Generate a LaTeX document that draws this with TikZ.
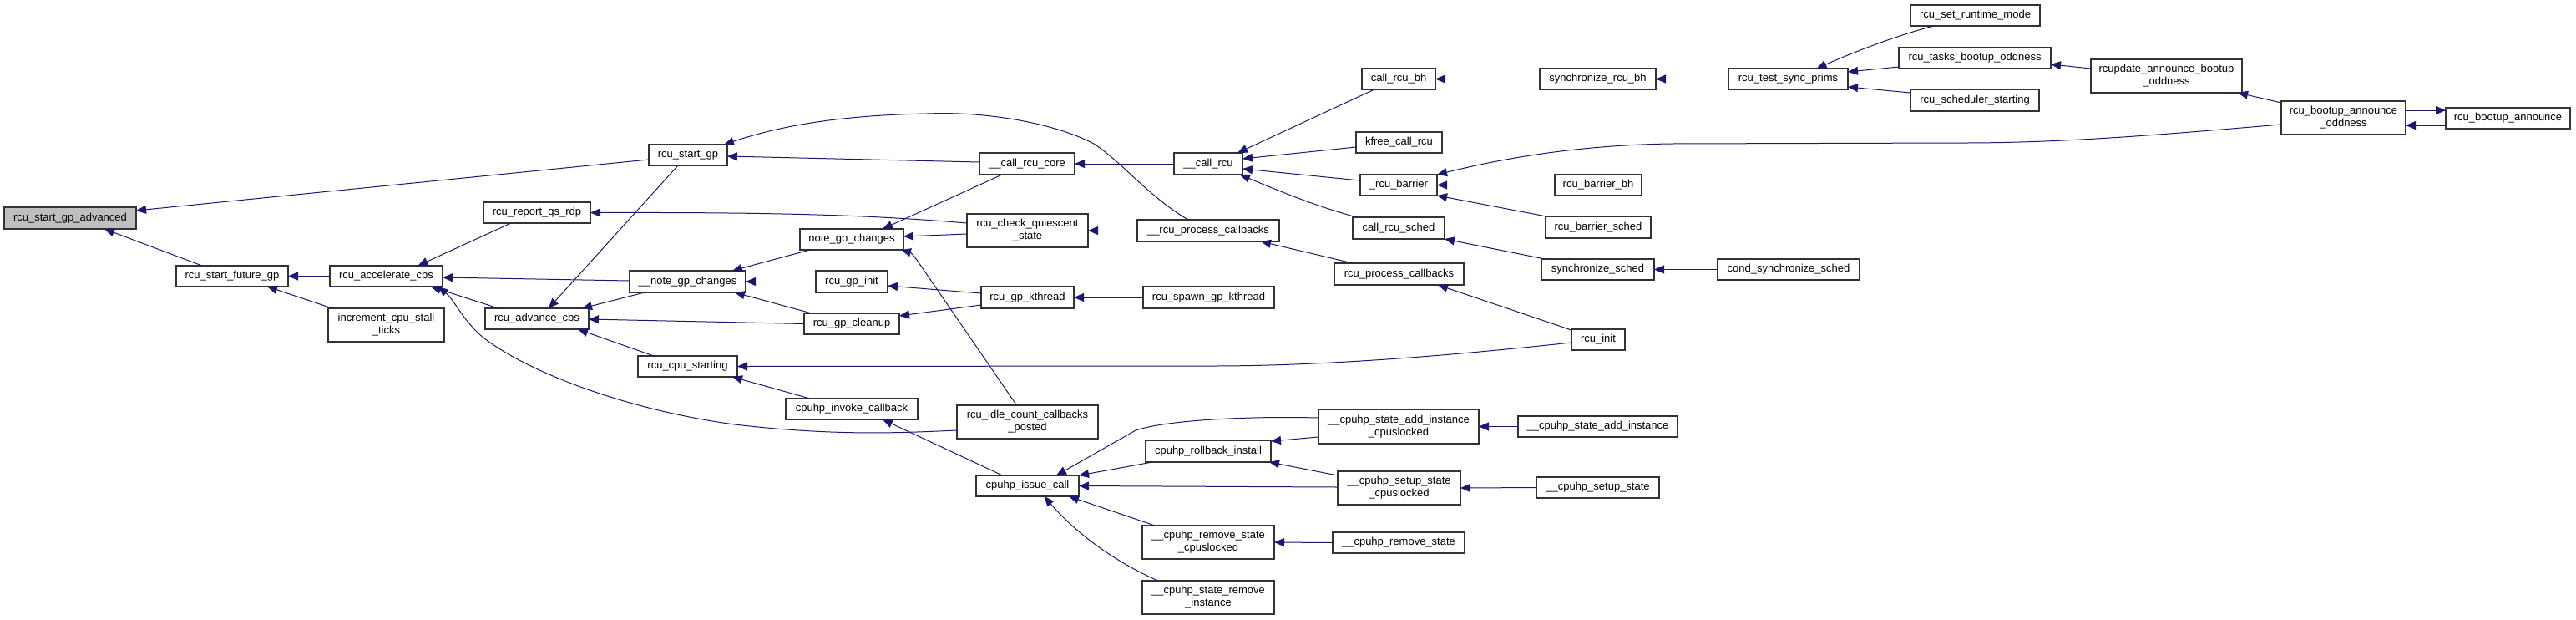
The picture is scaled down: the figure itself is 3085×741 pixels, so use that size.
\documentclass[tikz,border=0pt]{standalone}
\usepackage{fontspec}
\setmainfont{Liberation Sans}
\usetikzlibrary{arrows.meta,calc}
\definecolor{edgecol}{HTML}{191970}
\newcommand\nd[7][]{\node[nbox,#1, minimum width={(#5-#3)*0.5pt}, minimum height={(#6-#4)*0.5pt}] (#2) at ({(#3+#5)/2},{(#4+#6)/2}) {#7};}
\begin{document}
\begin{tikzpicture}[x=0.5pt,y=-0.5pt,
  font=\fontsize{6.5}{7.5}\selectfont,
  nbox/.style={draw=black!80, line width=0.6pt, fill=white, inner sep=0pt, outer sep=0pt, align=center},
  cedge/.style={draw=edgecol, line width=0.5pt, -{Triangle[length=6pt,width=5pt]}}]
\useasboundingbox (0,0) rectangle (3085,741);
% nodes
\nd[fill=black!25]{adv}{5}{248}{163}{274}{rcu\_start\_gp\_advanced}
\nd{fut}{211}{318}{345}{343}{rcu\_start\_future\_gp}
\nd{acc}{395}{318}{530}{343}{rcu\_accelerate\_cbs}
\nd{inc}{393}{369}{532}{409}{increment\_cpu\_stall\\\_ticks}
\nd{sgp}{777}{173}{871}{198}{rcu\_start\_gp}
\nd{rqs}{579}{242}{707}{267}{rcu\_report\_qs\_rdp}
\nd{ngc}{958}{274}{1082}{299}{note\_gp\_changes}
\nd{nngc}{754}{324}{893}{350}{\_\_note\_gp\_changes}
\nd{gpi}{977}{324}{1063}{350}{rcu\_gp\_init}
\nd{advc}{581}{369}{705}{394}{rcu\_advance\_cbs}
\nd{gpc}{963}{375}{1077}{400}{rcu\_gp\_cleanup}
\nd{cpus}{764}{426}{883}{451}{rcu\_cpu\_starting}
\nd{inv}{941}{477}{1099}{502}{cpuhp\_invoke\_callback}
\nd{crc}{1173}{183}{1287}{209}{\_\_call\_rcu\_core}
\nd{cr}{1406}{183}{1488}{209}{\_\_call\_rcu}
\nd{cqs}{1158}{256}{1303}{296}{rcu\_check\_quiescent\\\_state}
\nd{urpc}{1362}{263}{1532}{289}{\_\_rcu\_process\_callbacks}
\nd{gpk}{1175}{343}{1286}{369}{rcu\_gp\_kthread}
\nd{spawn}{1369}{343}{1526}{369}{rcu\_spawn\_gp\_kthread}
\nd{idle}{1146}{485}{1315}{525}{rcu\_idle\_count\_callbacks\\\_posted}
\nd{issue}{1169}{569}{1292}{594}{cpuhp\_issue\_call}
\nd{rb}{1372}{527}{1522}{553}{cpuhp\_rollback\_install}
\nd{rmsc}{1368}{629}{1526}{669}{\_\_cpuhp\_remove\_state\\\_cpuslocked}
\nd{sri}{1368}{695}{1526}{735}{\_\_cpuhp\_state\_remove\\\_instance}
\nd{crbh}{1631}{82}{1719}{107}{call\_rcu\_bh}
\nd{srbh}{1844}{82}{1983}{107}{synchronize\_rcu\_bh}
\nd{kfree}{1624}{158}{1727}{183}{kfree\_call\_rcu}
\nd{rbar}{1629}{209}{1721}{234}{\_rcu\_barrier}
\nd{rbbh}{1862}{209}{1966}{234}{rcu\_barrier\_bh}
\nd{rbs}{1851}{259}{1977}{285}{rcu\_barrier\_sched}
\nd{crs}{1620}{260}{1730}{286}{call\_rcu\_sched}
\nd{ss}{1846}{310}{1981}{335}{synchronize\_sched}
\nd{rpc}{1598}{315}{1753}{341}{rcu\_process\_callbacks}
\nd{init}{1882}{394}{1946}{419}{rcu\_init}
\nd{saic}{1579}{490}{1771}{531}{\_\_cpuhp\_state\_add\_instance\\\_cpuslocked}
\nd{sai}{1818}{498}{2009}{523}{\_\_cpuhp\_state\_add\_instance}
\nd{ssc}{1602}{564}{1749}{604}{\_\_cpuhp\_setup\_state\\\_cpuslocked}
\nd{sst}{1840}{571}{1987}{596}{\_\_cpuhp\_setup\_state}
\nd{rms}{1596}{637}{1754}{662}{\_\_cpuhp\_remove\_state}
\nd{tsp}{2070}{82}{2213}{107}{rcu\_test\_sync\_prims}
\nd{srm}{2288}{6}{2443}{31}{rcu\_set\_runtime\_mode}
\nd{tbo}{2274}{57}{2456}{82}{rcu\_tasks\_bootup\_oddness}
\nd{schs}{2288}{107}{2442}{133}{rcu\_scheduler\_starting}
\nd{rabo}{2504}{71}{2685}{111}{rcupdate\_announce\_bootup\\\_oddness}
\nd{css}{2057}{310}{2227}{335}{cond\_synchronize\_sched}
\nd{rbao}{2732}{121}{2881}{161}{rcu\_bootup\_announce\\\_oddness}
\nd{rba}{2929}{129}{3078}{154}{rcu\_bootup\_announce}
% edges
\draw[cedge] ($(sgp.west)+(0,5.5)$) -- ($(adv.north east)+(0,4)$);
\draw[cedge] ($(fut.north)+(-36,0)$) -- ($(adv.south)+(41,0)$);
\draw[cedge] (acc.west) -- (fut.east);
\draw[cedge] ($(inc.north west)+(5,0)$) -- ($(fut.south)+(42,0)$);
\draw[cedge] ($(rqs.south west)+(33,0)$) -- ($(acc.north)+(38,0)$);
\draw[cedge] ($(nngc.west)+(0,-1)$) -- ($(acc.east)+(0,1.5)$);
\draw[cedge] ($(advc.north west)+(16,0)$) -- ($(acc.south east)+(-14,0)$);
\draw[cedge] ($(idle.west)+(0,10)$) .. controls (1080,518) and (1000,522) .. (880,508) .. controls (760,492) and (640,450) .. (580,405) .. controls (555,385) and (545,360) .. ($(acc.south east)+(-5,0)$);
\draw[cedge] ($(sgp.south)+(-12,0)$) -- ($(advc.north)+(14,0)$);
\draw[cedge] ($(nngc.south west)+(18,0)$) -- ($(advc.north east)+(-8,0)$);
\draw[cedge] (gpc.west) -- ($(advc.east)+(0,0.5)$);
\draw[cedge] ($(cpus.north west)+(19,0)$) -- ($(advc.south east)+(-13,0)$);
\draw[cedge] ($(ngc.south west)+(12,0)$) -- ($(nngc.north east)+(-16,0)$);
\draw[cedge] (gpi.west) -- (nngc.east);
\draw[cedge] ($(gpc.north west)+(9,0)$) -- ($(nngc.south east)+(-13,0)$);
\draw[cedge] ($(crc.west)+(0,-2)$) -- ($(sgp.east)+(0,1.5)$);
\draw[cedge] ($(urpc.north)+(-24,0)$) .. controls (1375,235) and (1345,195) .. (1310,172) .. controls (1262,147) and (1180,133) .. (1110,136) .. controls (1000,138) and (930,152) .. ($(sgp.north east)+(-4,0)$);
\draw[cedge] ($(cqs.west)+(0,-9)$) .. controls (1050,258) and (950,254) .. (rqs.east);
\draw[cedge] ($(cqs.west)+(0,4)$) -- ($(ngc.east)+(0,-3.5)$);
\draw[cedge] ($(crc.south)+(-30,0)$) -- ($(ngc.north east)+(-25,0)$);
\draw[cedge] ($(idle.north)+(-13,0)$) -- (1100,314) .. controls (1095,306) and (1090,302) .. ($(ngc.south east)+(-3,0)$);
\draw[cedge] ($(gpk.west)+(0,-5)$) -- ($(gpi.east)+(0,5)$);
\draw[cedge] ($(gpk.west)+(0,9)$) -- ($(gpc.east)+(0,-9.5)$);
\draw[cedge] (spawn.west) -- (gpk.east);
\draw[cedge] (urpc.west) -- (cqs.east);
\draw[cedge] ($(rpc.north west)+(22,0)$) -- ($(urpc.south east)+(-22,0)$);
\draw[cedge] (cr.west) -- (crc.east);
\draw[cedge] ($(crbh.south west)+(15,0)$) -- ($(cr.north east)+(-6,0)$);
\draw[cedge] ($(kfree.west)+(0,5.5)$) -- ($(cr.east)+(0,-6)$);
\draw[cedge] ($(rbar.west)+(0,-5.5)$) -- ($(cr.east)+(0,6)$);
\draw[cedge] ($(crs.north west)+(5,0)$) .. controls (1580,248) and (1540,232) .. ($(cr.south east)+(-3,0)$);
\draw[cedge] (srbh.west) -- (crbh.east);
\draw[cedge] ($(rbao.west)+(0,8)$) .. controls (2600,160) and (2480,171) .. (2350,171) -- (2000,172) .. controls (1880,174) and (1790,192) .. (rbar.north east);
\draw[cedge] (rbbh.west) -- (rbar.east);
\draw[cedge] ($(rbs.north west)+(1,0)$) -- (rbar.south east);
\draw[cedge] ($(ss.north west)+(4,0)$) -- (crs.south east);
\draw[cedge] (css.west) -- (ss.east);
\draw[cedge] (tsp.west) -- (srbh.east);
\draw[cedge] ($(srm.south west)+(28,0)$) .. controls (2280,40) and (2230,58) .. ($(tsp.north)+(34,0)$);
\draw[cedge] ($(tbo.west)+(0,10.5)$) -- ($(tsp.east)+(0,-8.5)$);
\draw[cedge] ($(schs.west)+(0,-9)$) -- ($(tsp.east)+(0,9.5)$);
\draw[cedge] ($(rabo.west)+(0,-9)$) -- ($(tbo.east)+(0,7.5)$);
\draw[cedge] ($(rbao.north west)+(0,2)$) -- ($(rabo.south east)+(-5,0)$);
\draw[cedge] ($(rbao.east)+(0,-9)$) -- ($(rba.west)+(0,-9.5)$);
\draw[cedge] ($(rba.west)+(0,8.5)$) -- ($(rbao.east)+(0,9)$);
\draw[cedge] ($(init.north west)+(0,1)$) -- ($(rpc.south east)+(-31,0)$);
\draw[cedge] ($(init.west)+(0,3.5)$) .. controls (1760,423) and (1600,438) .. (1450,438) -- (cpus.east);
\draw[cedge] ($(inv.north west)+(29,0)$) -- ($(cpus.south east)+(-6,0)$);
\draw[cedge] ($(issue.north)+(-30,0)$) -- ($(inv.south)+(37,0)$);
\draw[cedge] ($(saic.west)+(0,-10.5)$) .. controls (1500,498) and (1400,502) .. (1360,515) -- ($(issue.north east)+(-27,0)$);
\draw[cedge] ($(rb.south west)+(8,0)$) -- (issue.north east);
\draw[cedge] ($(ssc.west)+(0,-1)$) -- (issue.east);
\draw[cedge] ($(rmsc.north west)+(15,0)$) -- ($(issue.south east)+(-12,0)$);
\draw[cedge] ($(sri.north west)+(19,0)$) .. controls (1340,675) and (1290,640) .. ($(issue.south)+(20,0)$);
\draw[cedge] ($(saic.west)+(0,12.5)$) -- ($(rb.east)+(0,-12)$);
\draw[cedge] ($(ssc.north west)+(0,5)$) -- ($(rb.south east)+(-2,0)$);
\draw[cedge] (sai.west) -- (saic.east);
\draw[cedge] (sst.west) -- (ssc.east);
\draw[cedge] (rms.west) -- (rmsc.east);
\end{tikzpicture}
\end{document}
